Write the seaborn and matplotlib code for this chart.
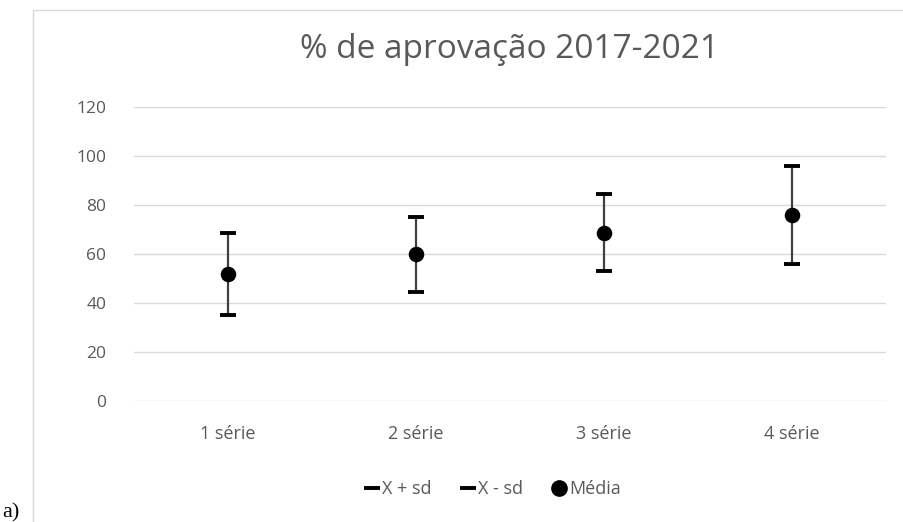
import matplotlib
matplotlib.use("Agg")
import matplotlib.pyplot as plt
import seaborn as sns
import pandas as pd
from matplotlib.lines import Line2D
from matplotlib.patches import Rectangle

# data
series = ["1 série", "2 série", "3 série", "4 série"]
media = [51.9, 59.8, 68.7, 75.9]
x_mais_sd = [68.4, 75.3, 84.4, 95.8]
x_menos_sd = [35.2, 44.3, 52.9, 56.1]
y_ticks = [0, 20, 40, 60, 80, 100, 120]

df = pd.DataFrame({"serie": series, "media": media,
                   "sup": x_mais_sd, "inf": x_menos_sd})
df["pos"] = range(len(df))

sns.set_style("white")
plt.rcParams["font.family"] = ["Open Sans", "DejaVu Sans"]
grey = "#595959"

fig = plt.figure(figsize=(9.04, 5.22), dpi=100)
ax = fig.add_axes([134 / 904, 1 - 401 / 522, 752 / 904, (401 - 107) / 522])

# vertical whiskers
ax.vlines(df["pos"], df["inf"], df["sup"], color="#404040", linewidth=1.6, zorder=2)
sns.scatterplot(data=df, x="pos", y="sup", marker="_", s=140, linewidth=2.8,
                color="black", edgecolor="black", ax=ax, zorder=3, legend=False)
sns.scatterplot(data=df, x="pos", y="inf", marker="_", s=140, linewidth=2.8,
                color="black", edgecolor="black", ax=ax, zorder=3, legend=False)
sns.scatterplot(data=df, x="pos", y="media", marker="o", s=125,
                color="black", edgecolor="black", linewidth=0, ax=ax, zorder=4, legend=False)

ax.set_xlim(-0.5, 3.5)
ax.set_ylim(0, 120)
ax.set_yticks(y_ticks)
ax.set_xticks(df["pos"])
ax.set_xticklabels(series)
ax.set_xlabel("")
ax.set_ylabel("")
ax.grid(axis="y", color="#d9d9d9", linewidth=1)
ax.set_axisbelow(True)
for s in ax.spines.values():
    s.set_visible(False)
ax.tick_params(axis="both", length=0, labelsize=12.5, colors=grey)
ax.tick_params(axis="x", labelsize=13)
ax.tick_params(axis="y", pad=20)
ax.tick_params(axis="x", pad=17)

fig.text(510 / 904, 1 - 50 / 522, "% de aprovação 2017-2021", ha="center", va="center",
         fontsize=24, color=grey)

handles = [
    Line2D([], [], color="black", marker="_", linestyle="none", markersize=11, markeredgewidth=2.8),
    Line2D([], [], color="black", marker="_", linestyle="none", markersize=11, markeredgewidth=2.8),
    Line2D([], [], color="black", marker="o", linestyle="none", markersize=11),
]
fig.legend(handles, ["X + sd", "X - sd", "Média"], loc="center",
           bbox_to_anchor=(492 / 904, 1 - 489 / 522), ncol=3, frameon=False,
           fontsize=13, labelcolor=grey, handletextpad=0.05, columnspacing=1.5,
           handlelength=1.0)

# chart border
fig.patches.append(Rectangle((33 / 904, -0.1), 1.0, 1.1 - 10 / 522,
                             transform=fig.transFigure, fill=False,
                             edgecolor="#d9d9d9", linewidth=1))
fig.text(0.002, 0.0, "a)", fontsize=16, family="Liberation Serif", color="black",
         ha="left", va="bottom")

fig.savefig("out.png", dpi=100)
